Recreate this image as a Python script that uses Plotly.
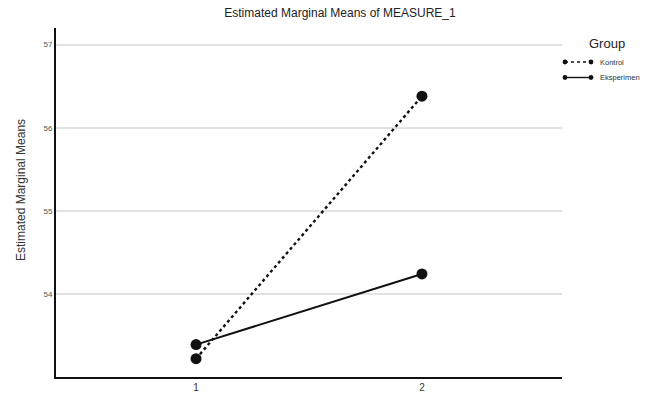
import plotly.graph_objects as go

time_points = [1, 2]
groups = ["Kontrol", "Eksperimen"]
kontrol_means = [53.22, 56.38]
eksperimen_means = [53.39, 54.24]
y_ticks = [54, 55, 56, 57]
x_ticks = [1, 2]

FONT = "Liberation Sans, Arial, sans-serif"

fig = go.Figure()
fig.add_trace(go.Scatter(x=time_points, y=kontrol_means, mode="lines+markers", name=groups[0],
                         line=dict(color="#111", width=2.4, dash="dot"),
                         marker=dict(color="#111", size=11), showlegend=False))
fig.add_trace(go.Scatter(x=time_points, y=eksperimen_means, mode="lines+markers", name=groups[1],
                         line=dict(color="#111", width=2), marker=dict(color="#111", size=11),
                         showlegend=False))

L, R, T, B = 56, 84, 28, 20
W, H = 646, 397
pw, ph = W - L - R, H - T - B

def px(x):
    return (x - L) / pw

def py(y):
    return (H - B - y) / ph

shapes = []
annotations = []
# custom legend
annotations.append(dict(x=px(607), y=py(43), xref="paper", yref="paper", text="Group",
                        showarrow=False, font=dict(size=13, color="#222", family=FONT),
                        xanchor="center", yanchor="middle"))
for i, (g, dash) in enumerate(zip(groups, ["dot", "solid"])):
    yy = py(62 + 15.5 * i)
    shapes.append(dict(type="line", xref="paper", yref="paper", x0=px(565), x1=px(591), y0=yy, y1=yy,
                       line=dict(color="#111", width=1.4, dash=dash)))
    for cx in (565, 591):
        shapes.append(dict(type="circle", xref="paper", yref="paper",
                           x0=px(cx - 2.4), x1=px(cx + 2.4), y0=yy - 2.4 / ph, y1=yy + 2.4 / ph,
                           fillcolor="#111", line=dict(color="#111", width=0)))
    annotations.append(dict(x=px(598), y=yy, xref="paper", yref="paper", text=g, showarrow=False,
                            font=dict(size=7.5, color="#333", family=FONT), xanchor="left",
                            yanchor="middle"))
# y axis title
annotations.append(dict(x=px(21), y=py(190), xref="paper", yref="paper",
                        text="Estimated Marginal Means", textangle=-90, showarrow=False,
                        font=dict(size=12, color="#333", family=FONT),
                        xanchor="center", yanchor="middle"))

fig.update_layout(
    width=W, height=H,
    margin=dict(l=L, r=R, t=T, b=B, autoexpand=False),
    paper_bgcolor="white", plot_bgcolor="white",
    title=dict(text="Estimated Marginal Means of MEASURE_1", x=340 / W, xanchor="center",
               y=1 - 13 / H, yanchor="middle", font=dict(size=12, color="#222", family=FONT)),
    xaxis=dict(range=[0.38, 2.62], tickvals=x_ticks, ticktext=[str(v) for v in x_ticks],
               showgrid=False, zeroline=False, showline=True, linecolor="#111", linewidth=2,
               tickfont=dict(size=10, color="#333", family=FONT), ticks="", ticklen=0,
               automargin=False),
    yaxis=dict(range=[53.0, 57.2], tickvals=y_ticks, ticktext=[str(v) for v in y_ticks],
               showgrid=True, gridcolor="#e2e2e2", gridwidth=1.5, zeroline=False,
               showline=True, linecolor="#111", linewidth=2,
               tickfont=dict(size=8, color="#555", family=FONT), ticks="", automargin=False),
    shapes=shapes, annotations=annotations,
    font=dict(family=FONT),
)
fig.write_html("out.html", config={"displayModeBar": False},
               post_script="document.body.style.margin='0';document.body.style.overflow='hidden';")
